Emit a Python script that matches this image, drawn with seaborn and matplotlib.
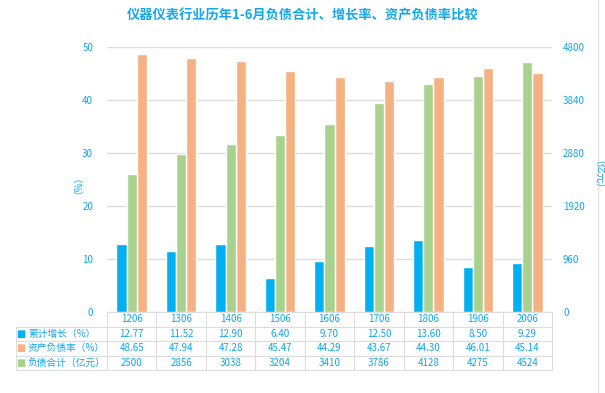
import matplotlib
matplotlib.use("Agg")
import pandas as pd
import matplotlib.pyplot as plt
import seaborn as sns
from matplotlib.lines import Line2D

sns.set_style("white")
plt.rcParams['font.family'] = ['Noto Sans CJK SC', 'DejaVu Sans']
plt.rcParams['axes.unicode_minus'] = False

# ----------------------------
# data
# ----------------------------
years = ["1206", "1306", "1406", "1506", "1606", "1706", "1806", "1906", "2006"]
growth = [12.77, 11.52, 12.90, 6.40, 9.70, 12.50, 13.60, 8.50, 9.29]
ratio = [48.65, 47.94, 47.28, 45.47, 44.29, 43.67, 44.30, 46.01, 45.14]
debt = [2500, 2856, 3038, 3204, 3410, 3786, 4128, 4275, 4524]

growth_name = "累计增长（%）"
ratio_name = "资产负债率（%）"
debt_name = "负债合计（亿元）"

growth_labels = ["12.77", "11.52", "12.90", "6.40", "9.70", "12.50", "13.60", "8.50", "9.29"]
ratio_labels = ["48.65", "47.94", "47.28", "45.47", "44.29", "43.67", "44.30", "46.01", "45.14"]
debt_labels = ["2500", "2856", "3038", "3204", "3410", "3786", "4128", "4275", "4524"]

palette = {growth_name: "#00B0F0", ratio_name: "#F4B183", debt_name: "#A9D18E"}
bar_order = [growth_name, debt_name, ratio_name]
text_color = "#12A6EA"
grid_color = "#DDDDDD"

pct_df = pd.DataFrame({
    "year": years * 2,
    "value": growth + ratio,
    "series": [growth_name] * len(years) + [ratio_name] * len(years),
})
debt_df = pd.DataFrame({"year": years, "value": debt, "series": [debt_name] * len(years)})

# ----------------------------
# figure
# ----------------------------
fig = plt.figure(figsize=(6.05, 3.93), dpi=100)
ax = fig.add_axes([107 / 605, 1 - 312 / 393, 445 / 605, 265 / 393])
ax2 = ax.twinx()

sns.barplot(data=pct_df, x="year", y="value", hue="series", hue_order=bar_order,
            palette=palette, saturation=1, width=0.62, dodge=True, ax=ax,
            legend=False, order=years)
sns.barplot(data=debt_df, x="year", y="value", hue="series", hue_order=bar_order,
            palette=palette, saturation=1, width=0.62, dodge=True, ax=ax2,
            legend=False, order=years)

ax.set_ylim(0, 50)
ax.set_yticks(range(0, 51, 10))
ax2.set_ylim(0, 4800)
ax2.set_yticks(range(0, 4801, 960))
ax.set_xlim(-0.5, len(years) - 0.5)

for a in (ax, ax2):
    for s in a.spines.values():
        s.set_visible(False)
    a.set_xlabel("")
    a.set_ylabel("")
    a.tick_params(axis="both", length=0, labelsize=7, labelcolor=text_color)
    a.set_xticks([])
ax.tick_params(axis="y", pad=10)
ax2.tick_params(axis="y", pad=8)
ax.yaxis.grid(True, color=grid_color, lw=1)
ax.set_axisbelow(True)
ax2.grid(False)

fig.text(73 / 605, 1 - 180 / 393, "（%）", rotation=90, color=text_color,
         fontsize=7, ha="center", va="center")
fig.text(593 / 605, 1 - 180 / 393, "（亿元）", rotation=270, color=text_color,
         fontsize=7, ha="center", va="center")

fig.text(0.5, 1 - 15 / 393, "仪器仪表行业历年1-6月负债合计、增长率、资产负债率比较",
         color=text_color, fontsize=9.5, fontweight="bold", ha="center", va="center")

# ----------------------------
# data table under the bars
# ----------------------------
label_w = 91 / 445
tab_h = 58 / 265
cell_text = [[""] + years,
             [""] + growth_labels,
             [""] + ratio_labels,
             [""] + debt_labels]
col_w = [91] + [445 / len(years)] * len(years)
table = ax.table(cellText=cell_text, cellLoc="center", colWidths=col_w,
                 bbox=[-label_w, -tab_h, 1 + label_w, tab_h])
table.auto_set_font_size(False)
table.set_fontsize(7)
for (r, c), cell in table.get_celld().items():
    cell.set_edgecolor(grid_color)
    cell.set_linewidth(0.8)
    cell.get_text().set_color(text_color)
    if r == 0 and c == 0:
        cell.visible_edges = ""

row_names = [growth_name, ratio_name, debt_name]
for i, name in enumerate(row_names):
    yc = -(i + 1.5) * tab_h / 4
    ax.text(-label_w + 5 / 445, yc, "■", color=palette[name], fontsize=7,
            ha="center", va="center", transform=ax.transAxes,
            family=["DejaVu Sans"])
    ax.text(-label_w + 12 / 445, yc, name, color=text_color, fontsize=7,
            ha="left", va="center", transform=ax.transAxes)

# faint frame line on the right edge
fig.add_artist(Line2D([598 / 605, 598 / 605], [0, 1], color="#E3E3E3", lw=1,
                      transform=fig.transFigure))

fig.savefig("out.png", dpi=100)
plt.close(fig)
